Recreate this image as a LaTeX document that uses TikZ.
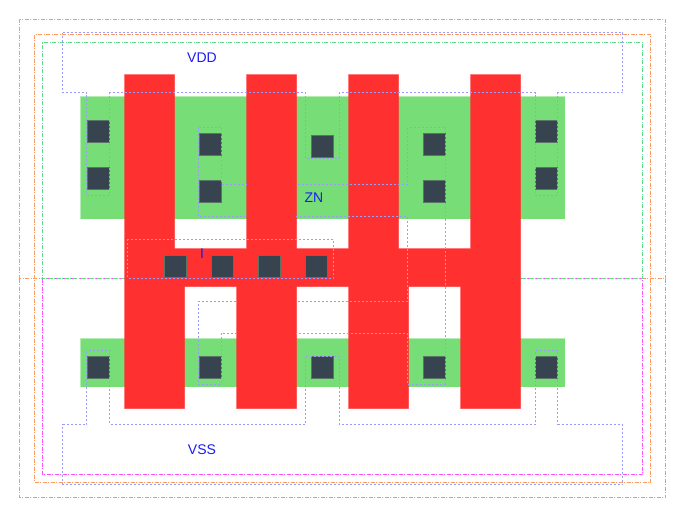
\documentclass[tikz,border=0pt]{standalone}
\usepackage{fontspec}
\setmainfont{Liberation Sans}
\definecolor{diff}{HTML}{77DD77}
\definecolor{poly}{HTML}{FF3030}
\definecolor{cont}{HTML}{37434F}
\definecolor{conte}{HTML}{5A7468}
\definecolor{metal}{HTML}{9C9CFF}
\definecolor{orangeb}{HTML}{FF9A60}
\definecolor{greenb}{HTML}{60DC8C}
\definecolor{blueb}{HTML}{70C0FF}
\definecolor{magb}{HTML}{FF50FF}
\definecolor{lab}{HTML}{1C1CEE}
\tikzset{
  diffbox/.style={fill=diff,draw=diff,draw opacity=.55,line width=.6pt},
  polybox/.style={fill=poly,draw=poly,draw opacity=.45,line width=.7pt},
  polycover/.style={fill=poly,draw=none},
  contbox/.style={fill=cont,draw=conte,line width=.6pt},
  cellline/.style={line width=.65pt,dash pattern=on 4pt off 1.5pt on 1pt off 1.5pt},
  metalline/.style={draw=metal,line width=.75pt,dash pattern=on 2pt off 2pt},
  lbl/.style={text=lab,font=\fontsize{14}{14}\selectfont,inner sep=0pt}
}
\newcommand{\contact}[2]{\path[contbox] (#1,#2) rectangle ++(22,22);}
\begin{document}
\begin{tikzpicture}[x=1pt,y=-1pt]
\useasboundingbox (0,0) rectangle (685,517);
% cell boundaries
\draw[cellline,draw=blueb] (19.5,278.5) -- (19.5,497.5) -- (665.5,497.5) -- (665.5,278.5);
\draw[cellline,draw=orangeb] (19.5,278.5) -- (19.5,19.5) -- (665.5,19.5) -- (665.5,278.5) -- cycle;
\draw[cellline,draw=orangeb] (34.5,34.5) rectangle (650.5,482.5);
\draw[cellline,draw=magb] (42.5,278.5) -- (42.5,474.5) -- (642.5,474.5) -- (642.5,278.5) -- cycle;
\draw[cellline,draw=greenb,dash phase=2.5pt] (42.5,278.5) -- (42.5,42.5) -- (642.5,42.5) -- (642.5,278.5) -- cycle;
% diffusion
\path[diffbox] (80.5,96.5) rectangle (564.5,218.5);
\path[diffbox] (80.5,338.5) rectangle (564.5,386.5);
% poly
\path[polybox] (124.5,74.5) -- (174.5,74.5) -- (174.5,248.5) -- (246.5,248.5) -- (246.5,74.5) -- (296.5,74.5)
  -- (296.5,248.5) -- (348.5,248.5) -- (348.5,74.5) -- (398.5,74.5) -- (398.5,248.5) -- (470.5,248.5)
  -- (470.5,74.5) -- (520.5,74.5) -- (520.5,408.5) -- (460.5,408.5) -- (460.5,286.5) -- (408.5,286.5)
  -- (408.5,408.5) -- (348.5,408.5) -- (348.5,286.5) -- (296.5,286.5) -- (296.5,408.5) -- (236.5,408.5)
  -- (236.5,286.5) -- (184.5,286.5) -- (184.5,408.5) -- (124.5,408.5) -- cycle;
% contacts
\contact{87.3}{120.3}\contact{87.3}{167.3}
\contact{199.3}{133.3}\contact{199.3}{180.3}
\contact{311.3}{135.3}
\contact{423.3}{133.3}\contact{423.3}{180.3}
\contact{535.3}{120.3}\contact{535.3}{167.3}
\contact{164.3}{255.3}\contact{211.3}{255.3}\contact{258.3}{255.3}\contact{305.3}{255.3}
\contact{87.3}{356.3}\contact{199.3}{356.3}\contact{311.3}{356.3}\contact{423.3}{356.3}\contact{535.3}{356.3}
% metal outlines
\draw[metalline] (62.5,32.5) -- (622.5,32.5) -- (622.5,92.5) -- (557.7,92.5) -- (557.7,195) -- (535,195)
  -- (535,92.5) -- (339.3,92.5) -- (339.3,158) -- (305.3,158) -- (305.3,92.5) -- (109.7,92.5) -- (109.7,195)
  -- (86.7,195) -- (86.7,92.5) -- (62.5,92.5) -- cycle;
\draw[metalline] (198.5,127.5) -- (221.7,127.5) -- (221.7,184) -- (407.5,184) -- (407.5,127.5) -- (445.7,127.5)
  -- (445.7,384) -- (407.5,384) -- (407.5,333) -- (221.7,333) -- (221.7,384) -- (198.5,384) -- (198.5,301)
  -- (407.5,301) -- (407.5,216) -- (198.5,216) -- cycle;
\path[polycover] (247,180) rectangle (296,246);
\path[polycover] (237,288) rectangle (296,338);
\draw[metalline] (127.3,239.3) rectangle (333.5,278);
\draw[metalline] (62.5,484.5) -- (62.5,424.5) -- (86.7,424.5) -- (86.7,350.5) -- (109.7,350.5) -- (109.7,424.5)
  -- (305.3,424.5) -- (305.3,356) -- (339.3,356) -- (339.3,424.5) -- (535,424.5) -- (535,350.5) -- (557.7,350.5)
  -- (557.7,424.5) -- (622.5,424.5) -- (622.5,484.5) -- cycle;
% labels
\node[lbl] (vdd) at (202,58) {VDD};
\node[lbl] (zn) at (314,198) {ZN};
\node[lbl] (inp) at (202,253.5) {I};
\node[lbl] (vss) at (202,450) {VSS};
\end{tikzpicture}
\end{document}
